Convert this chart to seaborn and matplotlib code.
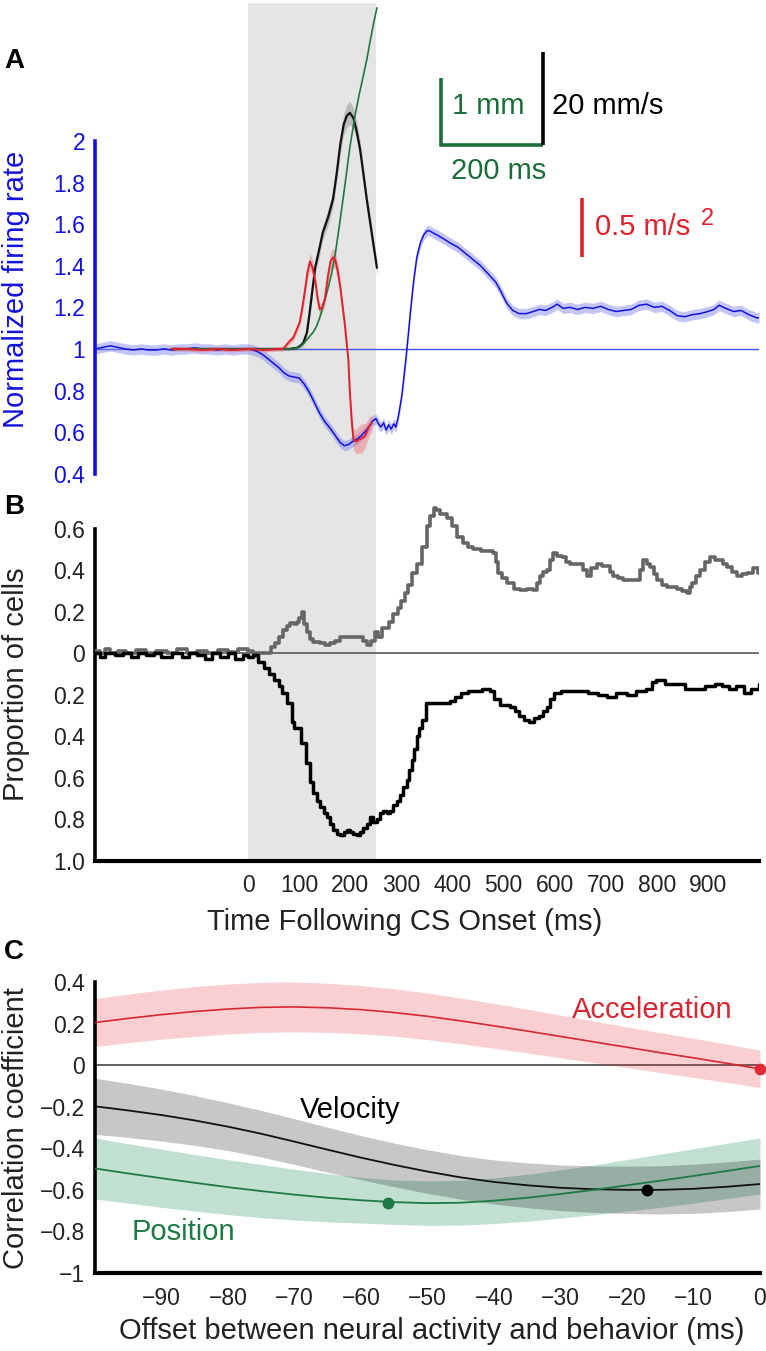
import matplotlib
matplotlib.use("Agg")
import matplotlib.pyplot as plt
import numpy as np
import seaborn as sns

# ---------------- Panel A data (display units of the normalized firing-rate axis) ----------------
firing_rate = [(-300, 1.00), (-290, 1.005), (-280, 1.01), (-270, 1.015), (-260, 1.01), (-250, 1.005),
               (-240, 1.0), (-225, 0.995), (-210, 1.0), (-195, 0.995), (-180, 0.995), (-165, 1.0),
               (-150, 0.995), (-135, 1.0), (-120, 1.0), (-105, 1.005), (-90, 1.0), (-75, 1.0),
               (-60, 0.995), (-45, 1.0), (-30, 0.995), (-15, 1.0), (0, 1.0), (10, 0.995), (20, 0.985),
               (30, 0.97), (40, 0.95), (50, 0.93), (60, 0.91), (70, 0.885), (80, 0.87), (90, 0.865),
               (100, 0.86), (110, 0.83), (120, 0.79), (130, 0.74), (140, 0.69), (150, 0.65), (160, 0.62),
               (170, 0.585), (180, 0.55), (188, 0.535), (196, 0.54), (204, 0.555), (212, 0.565),
               (220, 0.58), (228, 0.6), (236, 0.625), (244, 0.655), (250, 0.665), (255, 0.64),
               (260, 0.625), (265, 0.645), (270, 0.61), (275, 0.635), (280, 0.615), (285, 0.64),
               (289, 0.625), (293, 0.665), (297, 0.72), (301, 0.78), (305, 0.87), (309, 0.96),
               (313, 1.06), (318, 1.19), (324, 1.33), (330, 1.44), (337, 1.51), (344, 1.55),
               (351, 1.57), (357, 1.565), (364, 1.555), (372, 1.545), (382, 1.53), (395, 1.51),
               (410, 1.49), (425, 1.46), (440, 1.43), (455, 1.40), (470, 1.36), (485, 1.32),
               (496, 1.27), (506, 1.22), (518, 1.185), (530, 1.17), (545, 1.17), (558, 1.18),
               (570, 1.19), (582, 1.185), (595, 1.20), (605, 1.215), (617, 1.195), (630, 1.20),
               (645, 1.19), (660, 1.20), (675, 1.195), (690, 1.205), (705, 1.19), (720, 1.18),
               (735, 1.185), (750, 1.19), (765, 1.21), (780, 1.215), (795, 1.20), (810, 1.205),
               (825, 1.185), (840, 1.16), (855, 1.155), (870, 1.165), (885, 1.17), (900, 1.18),
               (912, 1.19), (922, 1.21), (935, 1.195), (950, 1.18), (965, 1.185), (980, 1.165),
               (995, 1.15), (1000, 1.15)]
firing_sem = 0.025

# velocity (time, value, sem)
velocity_a = [(-150, 1.0, 0.008), (-100, 1.0, 0.008), (-50, 1.0, 0.008), (0, 1.0, 0.008), (50, 1.0, 0.008),
              (80, 1.0, 0.008), (95, 1.005, 0.01), (102, 1.015, 0.012), (108, 1.03, 0.015),
              (115, 1.08, 0.02), (120, 1.17, 0.025), (125, 1.27, 0.03), (131, 1.39, 0.03),
              (140, 1.49, 0.035), (146, 1.56, 0.035), (156, 1.63, 0.04), (166, 1.72, 0.04),
              (173, 1.84, 0.04), (180, 1.98, 0.045), (187, 2.08, 0.05), (193, 2.12, 0.055),
              (199, 2.135, 0.055), (206, 2.11, 0.05), (212, 2.05, 0.045), (219, 1.96, 0.04),
              (225, 1.85, 0.035), (232, 1.72, 0.035), (238, 1.62, 0.035), (244, 1.52, 0.035),
              (252, 1.39, 0.035)]

position_a = [(-150, 1.0), (-100, 1.0), (-50, 1.0), (0, 1.0), (50, 1.0), (82, 1.0), (95, 1.005),
              (101, 1.01), (110, 1.03), (120, 1.06), (127, 1.08), (134, 1.11), (140, 1.15),
              (146, 1.20), (155, 1.28), (163, 1.36), (170, 1.45), (180, 1.62), (190, 1.80),
              (199, 1.97), (209, 2.12), (217, 2.22), (225, 2.31), (232, 2.39), (238, 2.47),
              (245, 2.56), (252, 2.64)]

# acceleration (time, value, sem)
acceleration_a = [(-150, 1.0, 0.01), (-120, 1.0, 0.01), (-90, 0.995, 0.01), (-60, 1.0, 0.01),
                  (-30, 0.995, 0.01), (0, 1.0, 0.01), (30, 0.995, 0.01), (60, 1.0, 0.01),
                  (68, 1.0, 0.01), (75, 1.02, 0.012), (82, 1.04, 0.015), (87, 1.05, 0.015),
                  (91, 1.07, 0.015), (96, 1.1, 0.02), (101, 1.13, 0.02), (106, 1.2, 0.025),
                  (111, 1.28, 0.03), (116, 1.37, 0.035), (121, 1.42, 0.04), (126, 1.39, 0.035),
                  (131, 1.33, 0.03), (136, 1.24, 0.025), (140, 1.19, 0.025), (145, 1.2, 0.025),
                  (150, 1.24, 0.03), (156, 1.35, 0.035), (161, 1.42, 0.04), (166, 1.44, 0.045),
                  (170, 1.43, 0.045), (175, 1.38, 0.04), (180, 1.3, 0.035), (185, 1.2, 0.03),
                  (189, 1.12, 0.03), (193, 1.02, 0.03), (196, 0.95, 0.03), (199, 0.79, 0.03),
                  (203, 0.64, 0.04), (206, 0.565, 0.05), (212, 0.555, 0.06), (217, 0.565, 0.065),
                  (222, 0.57, 0.07), (228, 0.58, 0.06), (232, 0.60, 0.05), (236, 0.625, 0.045),
                  (242, 0.645, 0.04)]

shade_window = (0, 250)
a_yticks = [0.4, 0.6, 0.8, 1.0, 1.2, 1.4, 1.6, 1.8, 2.0]
a_yticklabels = ["0.4", "0.6", "0.8", "1", "1.2", "1.4", "1.6", "1.8", "2"]

# ---------------- Panel B data ----------------
increased_cells = [(-300, 0.01), (-290, 0.0), (-280, 0.02), (-270, 0.0), (-255, 0.01), (-240, 0.0),
                   (-220, 0.015), (-200, 0.0), (-180, 0.01), (-160, 0.0), (-140, 0.02), (-120, 0.0),
                   (-100, 0.01), (-80, 0.0), (-60, 0.015), (-40, 0.005), (-20, 0.02), (0, 0.01),
                   (10, 0.0), (37, 0.0), (45, 0.03), (53, 0.05), (60, 0.08), (68, 0.11), (75, 0.13),
                   (82, 0.145), (90, 0.14), (96, 0.15), (100, 0.17), (105, 0.2), (110, 0.14),
                   (115, 0.1), (120, 0.07), (127, 0.055), (140, 0.05), (150, 0.04), (160, 0.05),
                   (170, 0.06), (180, 0.08), (200, 0.08), (215, 0.08), (225, 0.06), (232, 0.04),
                   (240, 0.06), (248, 0.1), (255, 0.08), (262, 0.12), (268, 0.12), (275, 0.15),
                   (283, 0.19), (293, 0.22), (300, 0.25), (307, 0.29), (313, 0.33), (320, 0.385),
                   (330, 0.43), (340, 0.51), (350, 0.61), (356, 0.66), (363, 0.70), (368, 0.69),
                   (375, 0.67), (382, 0.67), (389, 0.65), (398, 0.61), (409, 0.56), (420, 0.53),
                   (430, 0.51), (440, 0.50), (455, 0.49), (470, 0.49), (479, 0.48), (485, 0.44),
                   (489, 0.385), (497, 0.36), (507, 0.34), (520, 0.31), (532, 0.305), (545, 0.31),
                   (557, 0.305), (565, 0.34), (571, 0.37), (578, 0.39), (585, 0.40), (591, 0.45),
                   (597, 0.48), (605, 0.47), (614, 0.465), (622, 0.44), (630, 0.43), (640, 0.43),
                   (649, 0.43), (656, 0.40), (663, 0.37), (672, 0.41), (683, 0.43), (692, 0.42),
                   (702, 0.42), (708, 0.39), (714, 0.37), (724, 0.36), (734, 0.35), (748, 0.35),
                   (761, 0.35), (767, 0.40), (773, 0.45), (780, 0.43), (787, 0.415), (794, 0.38),
                   (800, 0.35), (810, 0.33), (820, 0.32), (830, 0.32), (839, 0.31), (850, 0.30),
                   (859, 0.29), (864, 0.32), (869, 0.34), (877, 0.37), (885, 0.40), (895, 0.44),
                   (904, 0.465), (914, 0.45), (924, 0.45), (930, 0.43), (937, 0.415), (947, 0.39),
                   (957, 0.37), (966, 0.38), (976, 0.385), (988, 0.41), (998, 0.385), (1000, 0.385)]

decreased_cells = [(-300, 0.0), (-290, 0.02), (-280, 0.0), (-260, 0.01), (-245, 0.0), (-230, 0.02),
                   (-215, 0.0), (-200, 0.01), (-185, 0.0), (-170, 0.02), (-150, 0.0), (-130, 0.02),
                   (-115, 0.0), (-100, 0.01), (-85, 0.03), (-70, 0.0), (-55, 0.02), (-40, 0.0),
                   (-25, 0.03), (-10, 0.01), (0, 0.02), (10, 0.01), (20, 0.04), (30, 0.07),
                   (40, 0.1), (51, 0.13), (60, 0.16), (66, 0.19), (76, 0.24), (85, 0.33), (90, 0.36),
                   (95, 0.36), (104, 0.43), (114, 0.53), (121, 0.62), (127, 0.675), (134, 0.71),
                   (141, 0.74), (148, 0.77), (154, 0.79), (160, 0.82), (166, 0.85), (173, 0.87),
                   (180, 0.875), (187, 0.86), (193, 0.85), (200, 0.86), (206, 0.87), (212, 0.875),
                   (218, 0.86), (225, 0.84), (232, 0.82), (238, 0.79), (245, 0.81), (252, 0.80),
                   (258, 0.77), (264, 0.76), (271, 0.77), (277, 0.76), (283, 0.73), (291, 0.71),
                   (297, 0.68), (303, 0.645), (310, 0.61), (315, 0.56), (320, 0.515), (325, 0.46),
                   (330, 0.40), (335, 0.36), (340, 0.32), (348, 0.24), (358, 0.24), (377, 0.24),
                   (396, 0.23), (405, 0.21), (416, 0.19), (430, 0.18), (444, 0.18), (458, 0.17),
                   (473, 0.18), (482, 0.22), (492, 0.25), (512, 0.26), (522, 0.28), (531, 0.30),
                   (540, 0.32), (549, 0.33), (560, 0.31), (569, 0.30), (577, 0.28), (584, 0.26),
                   (591, 0.22), (598, 0.19), (612, 0.18), (627, 0.18), (645, 0.18), (665, 0.19),
                   (685, 0.20), (703, 0.21), (720, 0.19), (741, 0.20), (760, 0.18), (779, 0.17),
                   (790, 0.14), (799, 0.13), (815, 0.15), (837, 0.15), (855, 0.17), (875, 0.17),
                   (895, 0.16), (914, 0.15), (928, 0.16), (942, 0.17), (955, 0.16), (971, 0.19),
                   (985, 0.17), (1000, 0.15)]

b_yticks = [-1.0, -0.8, -0.6, -0.4, -0.2, 0.0, 0.2, 0.4, 0.6]
b_yticklabels = ["1.0", "0.8", "0.6", "0.4", "0.2", "0", "0.2", "0.4", "0.6"]
b_xticks = list(range(-300, 1001, 100))
b_xticklabels = ["", "", "", "0", "100", "200", "300", "400", "500", "600", "700", "800", "900", ""]

# ---------------- Panel C data ----------------
offsets = [-100, -95, -90, -85, -80, -75, -70, -65, -60, -55, -50, -45, -40, -35, -30, -25, -20, -15, -10, -5, 0]
corr_acceleration = [0.205, 0.225, 0.243, 0.258, 0.27, 0.278, 0.28, 0.276, 0.267, 0.253, 0.235, 0.213,
                     0.189, 0.164, 0.138, 0.112, 0.086, 0.06, 0.035, 0.009, -0.018]
ci_acceleration = [0.115, 0.117, 0.118, 0.12, 0.12, 0.12, 0.12, 0.118, 0.116, 0.114, 0.112, 0.11,
                   0.108, 0.105, 0.103, 0.1, 0.098, 0.096, 0.094, 0.092, 0.09]
corr_velocity = [-0.198, -0.218, -0.24, -0.266, -0.296, -0.33, -0.368, -0.407, -0.445, -0.48, -0.512,
                 -0.54, -0.562, -0.578, -0.59, -0.597, -0.60, -0.60, -0.595, -0.585, -0.572]
ci_velocity = [0.135, 0.13, 0.125, 0.12, 0.115, 0.112, 0.11, 0.108, 0.106, 0.105, 0.105, 0.105,
               0.106, 0.108, 0.11, 0.112, 0.114, 0.116, 0.118, 0.12, 0.12]
corr_position = [-0.497, -0.521, -0.544, -0.566, -0.587, -0.606, -0.623, -0.638, -0.65, -0.659, -0.664,
                 -0.662, -0.652, -0.638, -0.62, -0.60, -0.578, -0.556, -0.533, -0.509, -0.485]
ci_position = [0.147, 0.143, 0.14, 0.136, 0.132, 0.128, 0.122, 0.116, 0.11, 0.107, 0.107, 0.108,
               0.11, 0.113, 0.116, 0.12, 0.124, 0.128, 0.131, 0.133, 0.135]
peak_acceleration = (0, -0.018)
peak_velocity = (-17, -0.60)
peak_position = (-56, -0.663)
c_xticks = list(range(-100, 1, 10))
c_xticklabels = [""] + ["\u2212%d" % abs(v) for v in range(-90, 0, 10)] + ["0"]
c_yticks = [-1.0, -0.8, -0.6, -0.4, -0.2, 0.0, 0.2, 0.4]
c_yticklabels = ["\u22121", "\u22120.8", "\u22120.6", "\u22120.4", "\u22120.2", "0", "0.2", "0.4"]

# ---------------- styling ----------------
sns.set_theme(style="white")
plt.rcParams["font.family"] = ["Liberation Sans", "DejaVu Sans"]

W, H = 766, 1351
BLUE = "#1212dc"
TXT = "#222222"
RED = "#e0202a"
GREEN_A = "#1b6e3a"
GREEN_C = "#1d7a45"
RED_C = "#d62832"

fig = plt.figure(figsize=(W / 100, H / 100), dpi=100)


def box(x0, y0, x1, y1):
    return [x0 / W, 1 - y1 / H, (x1 - x0) / W, (y1 - y0) / H]


def pt(x, y):
    return x / W, 1 - y / H


axA = fig.add_axes(box(95, 3, 759, 490))
axB = fig.add_axes(box(95, 490, 759, 861))
axC = fig.add_axes(box(95, 982, 760, 1273))
for ax in (axA, axB, axC):
    ax.patch.set_alpha(0)
    for s in ("top", "right"):
        ax.spines[s].set_visible(False)

# ---------------- Panel A ----------------
axA.set_xlim(-300, 1000)
axA.set_ylim(0.322, 2.663)
axA.axvspan(*shade_window, color="#e5e5e5", lw=0, zorder=0)
axA.axhline(1.0, color="#4455e6", lw=1.0, zorder=1)

fr_t, fr_v = map(np.array, zip(*firing_rate))
axA.fill_between(fr_t, fr_v - firing_sem, fr_v + firing_sem, color="#7a80f0", alpha=0.45, lw=0, zorder=2)
sns.lineplot(x=fr_t, y=fr_v, ax=axA, color=BLUE, lw=1.1, zorder=3)

ve_t, ve_v, ve_s = map(np.array, zip(*velocity_a))
axA.fill_between(ve_t, ve_v - ve_s, ve_v + ve_s, color="#8a8a8a", alpha=0.45, lw=0, zorder=2)
sns.lineplot(x=ve_t, y=ve_v, ax=axA, color="#111111", lw=1.6, zorder=4)

po_t, po_v = map(np.array, zip(*position_a))
sns.lineplot(x=po_t, y=po_v, ax=axA, color="#1e7a3c", lw=1.2, zorder=4)

ac_t, ac_v, ac_s = map(np.array, zip(*acceleration_a))
axA.fill_between(ac_t, ac_v - ac_s, ac_v + ac_s, color="#f07078", alpha=0.45, lw=0, zorder=2)
sns.lineplot(x=ac_t, y=ac_v, ax=axA, color=RED, lw=1.4, zorder=5)

# scale bars
axA.plot([377, 377, 577], [2.302, 1.981, 1.981], color=GREEN_A, lw=2.6, solid_capstyle="butt",
         solid_joinstyle="miter")
axA.plot([577, 577], [1.981, 2.427], color="black", lw=2.6, solid_capstyle="butt")
axA.plot([653, 653], [1.443, 1.726], color=RED, lw=2.6, solid_capstyle="butt")

axA.spines["bottom"].set_visible(False)
axA.spines["left"].set_color(BLUE)
axA.spines["left"].set_linewidth(2.6)
axA.spines["left"].set_bounds(0.4, 2.0)
axA.set_xticks([])
axA.set_yticks(a_yticks)
axA.set_yticklabels(a_yticklabels)
axA.tick_params(axis="y", direction="in", length=5, width=1.5, colors=BLUE, labelsize=16.5, pad=7)
axA.set_xlabel("")
axA.set_ylabel("")

# ---------------- Panel B ----------------
axB.set_xlim(-300, 1000)
axB.set_ylim(-1.0, 0.7855)
axB.axvspan(*shade_window, color="#e5e5e5", lw=0, zorder=0)
axB.axhline(0, color="#5a5a5a", lw=1.2, zorder=1)
up_t, up_v = map(np.array, zip(*increased_cells))
dn_t, dn_v = map(np.array, zip(*decreased_cells))
sns.lineplot(x=up_t, y=up_v, ax=axB, color="#666666", lw=2.6, drawstyle="steps-post", zorder=3)
sns.lineplot(x=dn_t, y=-dn_v, ax=axB, color="black", lw=2.5, drawstyle="steps-post", zorder=4)
axB.spines["left"].set_bounds(-1.0, 0.6)
axB.spines["left"].set_linewidth(2.6)
axB.spines["left"].set_color("black")
axB.spines["bottom"].set_linewidth(3.0)
axB.spines["bottom"].set_color("black")
axB.set_yticks(b_yticks)
axB.set_yticklabels(b_yticklabels)
axB.set_xticks(b_xticks)
axB.set_xticklabels(b_xticklabels)
axB.tick_params(axis="both", direction="in", length=6, width=1.6, color="black",
                labelcolor=TXT, labelsize=16.5)
axB.tick_params(axis="x", pad=9)
axB.tick_params(axis="y", pad=7)
axB.set_xlabel("")
axB.set_ylabel("")

# ---------------- Panel C ----------------
axC.set_xlim(-100, 0)
axC.set_ylim(-1.0, 0.4)
axC.axhline(0, color="#444444", lw=1.2, zorder=1)
off = np.array(offsets)
for vals, ci, fc, a in ((corr_acceleration, ci_acceleration, "#e8303a", 0.23),
                        (corr_position, ci_position, "#66b38f", 0.4),
                        (corr_velocity, ci_velocity, "#000000", 0.22)):
    v = np.array(vals)
    c = np.array(ci)
    axC.fill_between(off, v - c, v + c, color=fc, alpha=a, lw=0, zorder=2)
sns.lineplot(x=off, y=corr_acceleration, ax=axC, color=RED_C, lw=1.2, zorder=4)
sns.lineplot(x=off, y=corr_velocity, ax=axC, color="#111111", lw=1.3, zorder=4)
sns.lineplot(x=off, y=corr_position, ax=axC, color=GREEN_C, lw=1.3, zorder=4)
for (px_, py_), col in ((peak_acceleration, "#e02a35"), (peak_velocity, "black"), (peak_position, GREEN_C)):
    axC.plot([px_], [py_], "o", color=col, ms=7.5, zorder=6, clip_on=False)
axC.spines["left"].set_linewidth(2.6)
axC.spines["left"].set_color("black")
axC.spines["bottom"].set_linewidth(3.0)
axC.spines["bottom"].set_color("black")
axC.set_xticks(c_xticks)
axC.set_xticklabels(c_xticklabels)
axC.set_yticks(c_yticks)
axC.set_yticklabels(c_yticklabels)
axC.tick_params(axis="both", direction="in", length=6, width=1.6, color="black",
                labelcolor=TXT, labelsize=16.5)
axC.tick_params(axis="x", pad=10)
axC.tick_params(axis="y", pad=7)
axC.set_xlabel("")
axC.set_ylabel("")

# ---------------- texts ----------------
for letter, (x, y) in (("A", (14, 61)), ("B", (14, 507)), ("C", (14, 952))):
    fig.text(*pt(x, y), letter, fontsize=20, fontweight="bold", color="black", ha="center", va="center")

fig.text(*pt(16, 289), "Normalized firing rate", rotation=90, color=BLUE, fontsize=21, ha="center", va="center")
fig.text(*pt(16, 684), "Proportion of cells", rotation=90, color=TXT, fontsize=21, ha="center", va="center")
fig.text(*pt(16, 1128), "Correlation coefficient", rotation=90, color=TXT, fontsize=21, ha="center", va="center")
fig.text(*pt(405, 922), "Time Following CS Onset (ms)", color=TXT, fontsize=21, ha="center", va="center")
fig.text(*pt(432, 1331), "Offset between neural activity and behavior (ms)", color=TXT, fontsize=21,
         ha="center", va="center")

fig.text(*pt(452, 106), "1 mm", color=GREEN_A, fontsize=21, ha="left", va="center")
fig.text(*pt(552, 106), "20 mm/s", color="black", fontsize=21, ha="left", va="center")
fig.text(*pt(451, 171), "200 ms", color=GREEN_A, fontsize=21, ha="left", va="center")
fig.text(*pt(595, 227), "0.5 m/s", color=RED, fontsize=21, ha="left", va="center")
fig.text(*pt(701, 219), "2", color=RED, fontsize=17, ha="left", va="center")

fig.text(*pt(652, 1010), "Acceleration", color=RED_C, fontsize=21, ha="center", va="center")
fig.text(*pt(350, 1110), "Velocity", color="black", fontsize=21, ha="center", va="center")
fig.text(*pt(183, 1232), "Position", color=GREEN_C, fontsize=21, ha="center", va="center")

fig.savefig("out.png", dpi=100)
